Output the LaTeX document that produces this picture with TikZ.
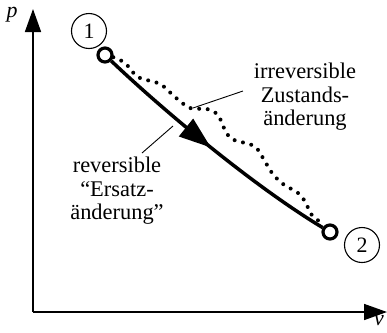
\documentclass[tikz,border=0pt]{standalone}
\usepackage{fontspec}
\setmainfont{Liberation Serif}
\usetikzlibrary{arrows.meta,decorations.markings}
\begin{document}
\begin{tikzpicture}[x=1bp,y=-1bp,
  axis/.style={line width=1.6bp,-{Triangle[length=23bp,width=16bp]}},
  pt/.style={circle,draw,line width=3.2bp,fill=white,minimum size=14bp,inner sep=0pt},
  numcirc/.style={circle,draw,line width=1.1bp,minimum size=35bp,inner sep=0pt,font=\fontsize{22}{24}\selectfont},
  lbl/.style={align=center,font=\fontsize{22.5}{23.5}\selectfont,inner sep=0pt},
  leader/.style={line width=0.9bp},
  revline/.style={line width=3.5bp,postaction={decorate},
    decoration={markings,mark=at position 0.49 with {\arrow{Triangle[length=32bp,width=22bp]}}}},
  irrline/.style={line width=4bp,line cap=round,dash pattern=on 0bp off 8.6bp}]
\useasboundingbox (0,0) rectangle (387,333);
% axes
\coordinate (O) at (33,312);
\coordinate (ytip) at (33,9);
\coordinate (xtip) at (387,312);
\draw[axis] (O) -- (ytip);
\draw[axis] (O) -- (xtip);
\node[font=\fontsize{22}{24}\selectfont\itshape] (plab) at (12,15) {p};
\node[font=\fontsize{22}{24}\selectfont\itshape] (vlab) at (379,321) {v};
% state points
\node[pt] (A) at (105,55) {};
\node[pt] (B) at (330,232) {};
\node[numcirc] (n1) at (89,31) {1};
\node[numcirc] (n2) at (362,245) {2};
% irreversible path
\draw[irrline] plot[smooth,tension=0.55] coordinates {(A.-15) (125,63) (138,77) (160,84) (175,97) (190,108) (207,109) (218,115) (224,128) (232,139) (254,146) (263,158) (272,173) (283,184) (298,193) (306,203) (311,214) (B.130)};
% reversible path
\draw[revline] (A) .. controls (165,112) and (255,187) .. (B);
% labels
\node[lbl] (irr) at (305,97) {irreversible\\Zustands-\\änderung};
\node[lbl] (rev) at (117,191) {reversible\\“Ersatz-\\änderung”};
\coordinate (irrA) at (193,108);
\coordinate (irrB) at (243,91);
\coordinate (revA) at (142,153);
\coordinate (revB) at (173,126);
\draw[leader] (irrA) -- (irrB);
\draw[leader] (revA) -- (revB);
\end{tikzpicture}
\end{document}
